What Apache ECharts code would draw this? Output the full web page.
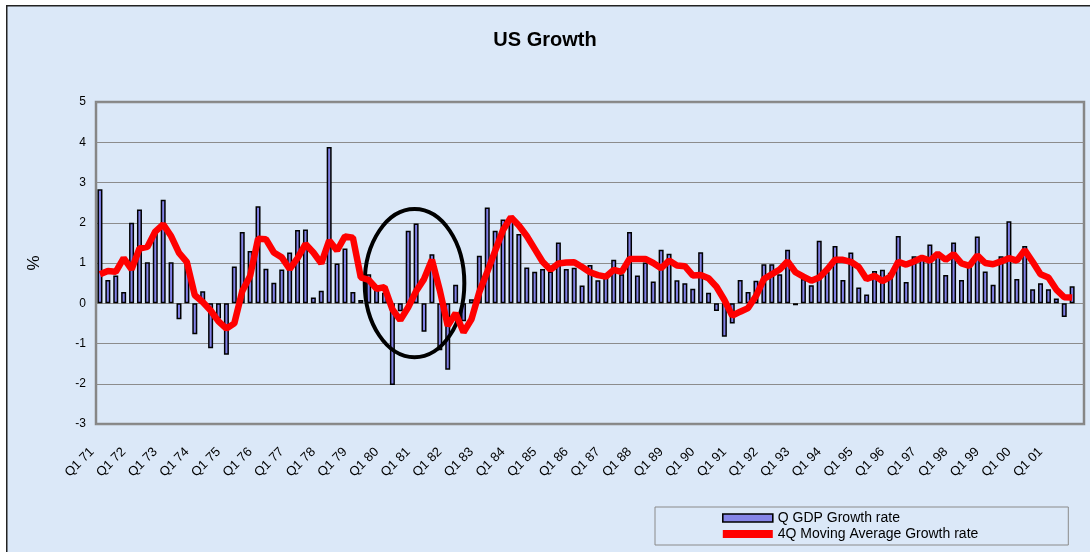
<!DOCTYPE html>
<html><head><meta charset="utf-8">
<script src="https://cdn.jsdelivr.net/npm/echarts@6/dist/echarts.min.js"></script>
<style>
html,body{margin:0;padding:0;background:#dbe8f8;overflow:hidden;}
#c{width:1090px;height:552px;}
</style>
</head><body><div id="c"></div>
<script>
// Quarter labels: Q1 71 ... Q4 01, plus one empty trailing category
const firstYear = 1971;
const quarterCount = 124;
const categories = [];
for (let i = 0; i < quarterCount; i++) {
  const yy = (firstYear + Math.floor(i / 4)) % 100;
  categories.push('Q' + (i % 4 + 1) + ' ' + String(yy).padStart(2, '0'));
}
categories.push('');

// Quarterly GDP growth rate, %
const gdpGrowth = [
  2.83, 0.58, 0.69, 0.28, 2.00, 2.33, 1.02, 1.75, 2.57, 1.02, -0.40, 1.00,
  -0.77, 0.30, -1.12, -0.38, -1.28, 0.91, 1.77, 1.30, 2.41, 0.86, 0.51, 0.84,
  1.26, 1.82, 1.83, 0.14, 0.31, 3.88, 0.99, 1.36, 0.28, 0.08, 0.72, 0.35,
  0.26, -2.03, -0.20, 1.80, 1.98, -0.71, 1.22, -1.17, -1.65, 0.46, -0.45, 0.10,
  1.18, 2.38, 1.80, 2.08, 2.10, 1.72, 0.89, 0.78, 0.85, 0.79, 1.51, 0.85,
  0.88, 0.44, 0.95, 0.57, 0.68, 1.08, 0.72, 1.77, 0.69, 1.01, 0.54, 1.33,
  1.23, 0.57, 0.50, 0.36, 1.27, 0.26, -0.19, -0.83, -0.50, 0.58, 0.28, 0.56,
  0.97, 0.97, 0.72, 1.33, -0.05, 0.60, 0.45, 1.55, 0.78, 1.42, 0.58, 1.26,
  0.39, 0.22, 0.80, 0.83, 0.76, 1.67, 0.53, 1.17, 1.17, 1.46, 1.26, 0.70,
  1.51, 0.58, 0.93, 1.66, 0.79, 0.46, 1.17, 2.04, 0.60, 1.42, 0.35, 0.50,
  0.35, 0.12, -0.34, 0.42, null
];

// 4Q moving average growth rate, %
const movingAvg = [
  0.72, 0.80, 0.78, 1.12, 0.84, 1.36, 1.40, 1.78, 1.96, 1.67, 1.25, 1.02,
  0.20, 0.03, -0.18, -0.45, -0.63, -0.50, 0.30, 0.68, 1.60, 1.59, 1.26, 1.14,
  0.85, 1.12, 1.47, 1.26, 0.99, 1.56, 1.31, 1.66, 1.63, 0.64, 0.58, 0.36,
  0.40, -0.15, -0.42, -0.10, 0.30, 0.60, 1.08, 0.32, -0.56, -0.25, -0.72, -0.40,
  0.28, 0.78, 1.30, 1.82, 2.14, 1.93, 1.67, 1.35, 1.03, 0.83, 0.99, 1.01,
  1.02, 0.90, 0.77, 0.70, 0.66, 0.83, 0.78, 1.10, 1.10, 1.10, 1.00, 0.87,
  1.06, 0.94, 0.92, 0.69, 0.70, 0.62, 0.41, 0.08, -0.31, -0.21, -0.12, 0.18,
  0.60, 0.72, 0.84, 1.04, 0.77, 0.66, 0.56, 0.64, 0.84, 1.08, 1.08, 1.03,
  0.90, 0.60, 0.68, 0.55, 0.66, 1.03, 0.96, 1.04, 1.13, 1.06, 1.23, 1.08,
  1.22, 0.99, 0.93, 1.19, 1.00, 0.97, 1.04, 1.12, 1.06, 1.32, 1.03, 0.72,
  0.64, 0.34, 0.15, 0.14, null
];

const yMin = -3, yMax = 5, yStep = 1;

// Annotation ellipse, in data units (category index, value)
const ringCenter = [39.8, 0.5];
const ringHalfSize = [6.3, 1.84];

const FONT = 'Liberation Sans, Arial, Helvetica, sans-serif';
const chart = echarts.init(document.getElementById('c'), null, {renderer: 'canvas'});

chart.setOption({
  backgroundColor: '#dbe8f8',
  animation: false,
  textStyle: {fontFamily: FONT, color: '#000'},
  title: {
    text: 'US Growth', left: 'center', top: 25,
    textStyle: {fontFamily: FONT, fontSize: 20, fontWeight: 'bold', color: '#000'}
  },
  grid: {
    left: 96, right: 6, top: 102, bottom: 128,
    show: true, borderColor: '#868686', borderWidth: 2.5, backgroundColor: 'transparent'
  },
  legend: {
    orient: 'vertical', left: 655, top: 507,
    padding: [3, 90, 3, 67], itemGap: 0,
    itemWidth: 50, itemHeight: 8,
    borderColor: '#8a8a8a', borderWidth: 1,
    textStyle: {fontFamily: FONT, fontSize: 14, color: '#000', lineHeight: 16},
    data: [
      {name: 'Q GDP Growth rate', icon: 'rect',
       itemStyle: {color: '#8585e8', borderColor: '#000', borderWidth: 1.6}},
      {name: '4Q Moving Average Growth rate', icon: 'rect',
       itemStyle: {color: '#ff0000', borderWidth: 0}}
    ]
  },
  xAxis: {
    type: 'category', data: categories, boundaryGap: true,
    axisLine: {show: false}, axisTick: {show: false},
    axisLabel: {interval: 3, rotate: 45, margin: 18, padding: [0, 11, 0, 0],
                fontSize: 13, color: '#000', fontFamily: FONT},
    splitLine: {show: false}
  },
  yAxis: {
    type: 'value', min: yMin, max: yMax, interval: yStep,
    name: '%', nameLocation: 'middle', nameGap: 53, nameRotate: 90,
    nameTextStyle: {fontSize: 17, color: '#000', fontFamily: FONT},
    axisLine: {show: false}, axisTick: {show: false},
    axisLabel: {fontSize: 12, margin: 10, color: '#000', fontFamily: FONT},
    splitLine: {lineStyle: {color: '#8c8c8c', width: 1}}
  },
  series: [
    {
      name: 'Q GDP Growth rate', type: 'bar', data: gdpGrowth,
      barWidth: 5, z: 2,
      itemStyle: {color: '#8080e6', borderColor: '#000', borderWidth: 1.5}
    },
    {
      name: '4Q Moving Average Growth rate', type: 'line', data: movingAvg,
      symbol: 'none', z: 4,
      lineStyle: {color: '#ff0000', width: 6.5},
      itemStyle: {color: '#ff0000'}
    }
  ]
});

const p0 = chart.convertToPixel({gridIndex: 0}, [0, 0]);
const p1 = chart.convertToPixel({gridIndex: 0}, [1, 1]);
const dx = p1[0] - p0[0], dy = p0[1] - p1[1];
chart.setOption({
  graphic: [
    {type: 'rect', z: 10, silent: true, shape: {x: 0, y: 0, width: 6, height: 552},
     style: {fill: '#fff'}},
    {type: 'rect', z: 10, silent: true, shape: {x: 0, y: 0, width: 1090, height: 5},
     style: {fill: '#fff'}},
    {type: 'polyline', z: 10, silent: true,
     shape: {points: [[6.75, 552], [6.75, 5.75], [1090, 5.75]]},
     style: {stroke: '#222', lineWidth: 1.5, fill: null}},
    {
      type: 'ellipse', z: 3,
      shape: {
        cx: p0[0] + ringCenter[0] * dx,
        cy: p0[1] - ringCenter[1] * dy,
        rx: ringHalfSize[0] * dx,
        ry: ringHalfSize[1] * dy
      },
      style: {fill: null, stroke: '#000', lineWidth: 4}
    }
  ]
});
</script>
</body></html>
